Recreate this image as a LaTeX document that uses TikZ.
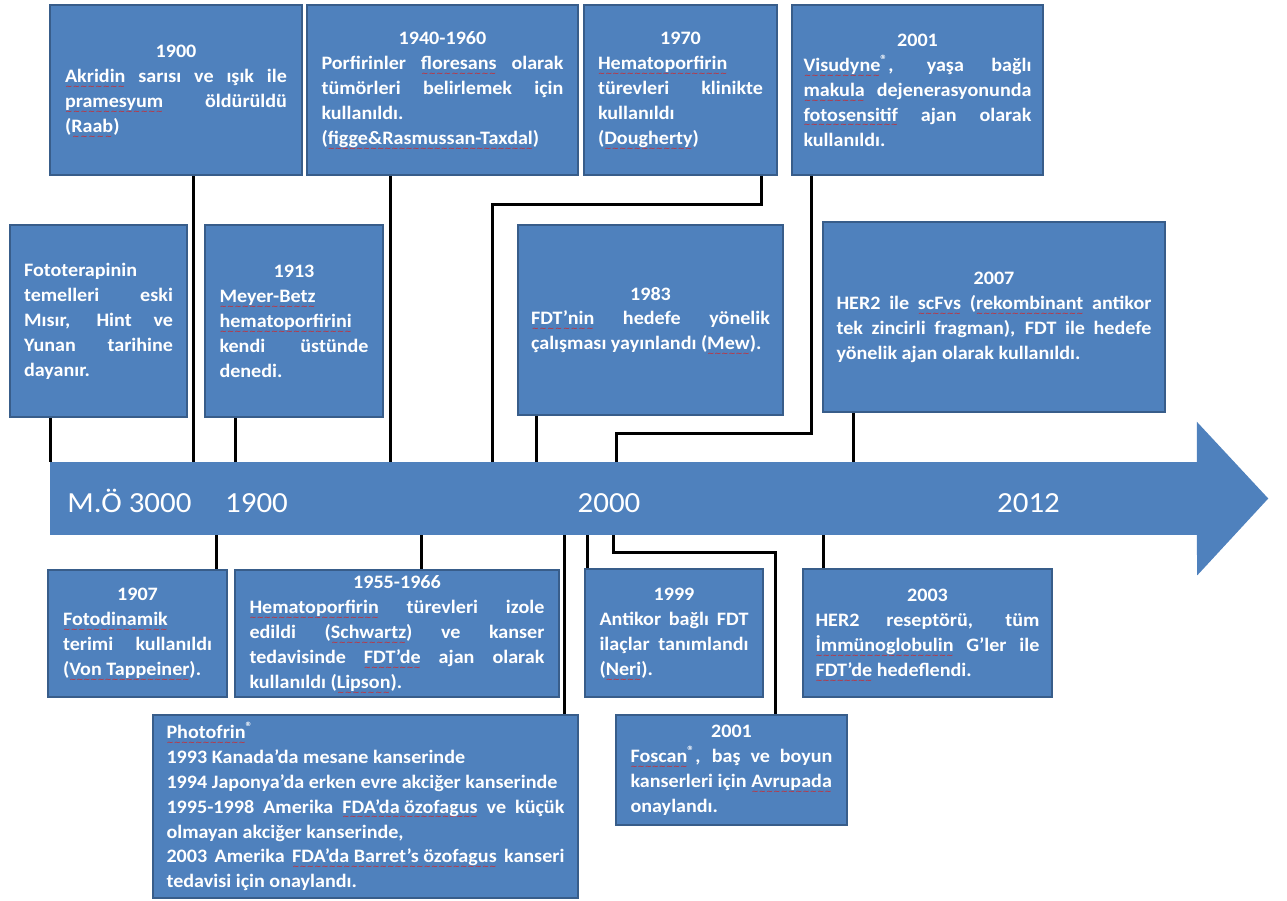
\documentclass[tikz,border=0pt]{standalone}
\usepackage{fontspec}
\setmainfont{Carlito}[FakeStretch=1.06]
\newfontfamily\wavefont{DejaVu Sans}
\usepackage{tikz}
\usetikzlibrary{calc}

\definecolor{evfill}{RGB}{79,129,189}
\definecolor{evline}{RGB}{56,93,138}
\definecolor{spellred}{RGB}{215,35,35}

\setlength{\parindent}{0pt}
\hyphenpenalty=10000
\exhyphenpenalty=10000
\tolerance=10000
\hbadness=10000

% red wavy underline, as in the source
\newsavebox\spkbox
\newcommand\spk[1]{\sbox\spkbox{#1}\leavevmode\rlap{\color{spellred}\raisebox{-3.9pt}[0pt][0pt]{\hbox to \wd\spkbox{\wavefont\fontsize{4.8}{4.8}\selectfont\mdseries\xleaders\hbox{∼}\hfil}}}\usebox\spkbox}
\newcommand\evyear[1]{{\centering #1\par}}

\begin{document}
\begin{tikzpicture}[x=0.02cm, y=-0.02cm,
    event/.style={rectangle, draw=evline, line width=1.4pt, fill=evfill, text=white, align=justify, inner xsep=3pt, inner ysep=2pt, font=\fontsize{10.8}{14.2}\selectfont\bfseries},
    axisbar/.style={rectangle, fill=evfill, inner sep=0pt, minimum width=22.94cm, minimum height=1.46cm},
    era/.style={text=white, anchor=base, font=\fontsize{16.6}{20}\selectfont},
    link/.style={line width=1.8pt, black}
]
\useasboundingbox (0,0) rectangle (1287,900);

% Time axis
\node[axisbar] (axis) at (623.5,498.5) {};
\fill[evfill] ($(axis.north east)+(-0.5,0)$) -- ++(0,-40) -- ($(axis.east)+(71,0)$) -- ($(axis.south east)+(0,40)$) -- ($(axis.south east)+(-0.5,0)$) -- cycle;
\node[era] (e3000) at (129.5,512) {M.Ö 3000};
\node[era] (e1900) at (256.5,512) {1900};
\node[era] (e2000) at (609,512) {2000};
\node[era] (e2012) at (1028.5,512) {2012};

% Top row
\node[event, minimum width=5.04cm, minimum height=3.4cm, text width=4.44cm] (b1900) at (176,90)
  {\evyear{1900}\spk{Akridin} sarısı ve ışık ile\linebreak \spk{pramesyum} öldürüldü\linebreak (\spk{Raab})};
\node[event, minimum width=5.42cm, minimum height=3.4cm, text width=4.84cm] (b1940) at (442.5,90)
  {\evyear{1940-1960}Porfirinler \spk{floresans} olarak\linebreak tümörleri belirlemek için\linebreak kullanıldı.\newline (\spk{figge\&Rasmussan-Taxdal})};
\node[event, minimum width=3.86cm, minimum height=3.4cm, text width=3.3cm] (b1970) at (680.5,90)
  {\evyear{1970}\spk{Hematoporfirin}\newline türevleri klinikte\linebreak kullanıldı\newline (\spk{Dougherty})};
\node[event, minimum width=5.02cm, minimum height=3.4cm, text width=4.56cm] (b2001v) at (917.5,90)
  {\evyear{2001}\spk{Visudyne}\textsuperscript{®}, yaşa bağlı\linebreak \spk{makula} dejenerasyonunda\linebreak \spk{fotosensitif} ajan olarak\linebreak kullanıldı.};

% Middle row
\node[event, minimum width=3.54cm, minimum height=3.84cm, text width=2.98cm] (bfoto) at (98.5,321)
  {Fototerapinin\newline temelleri eski\linebreak Mısır, Hint ve\linebreak Yunan tarihine\linebreak dayanır.};
\node[event, minimum width=3.56cm, minimum height=3.84cm, text width=2.98cm] (b1913) at (294,321)
  {\evyear{1913}\spk{Meyer-Betz}\newline \spk{hematoporfirini}\newline kendi üstünde\linebreak denedi.};
\node[event, minimum width=5.3cm, minimum height=3.8cm, text width=4.78cm] (b1983) at (650.5,320)
  {\evyear{1983}\spk{FDT’nin} hedefe yönelik\linebreak çalışması yayınlandı (\spk{Mew}).};
\node[event, minimum width=6.84cm, minimum height=3.8cm, text width=6.3cm] (b2007) at (994,317)
  {\evyear{2007}HER2 ile \spk{scFvs} (\spk{rekombinant} antikor\linebreak tek zincirli fragman), FDT ile hedefe\linebreak yönelik ajan olarak kullanıldı.};

% Bottom row
\node[event, minimum width=3.58cm, minimum height=2.54cm, text width=2.98cm] (b1907) at (137.5,633.5)
  {\evyear{1907}\spk{Fotodinamik}\newline terimi kullanıldı\linebreak (\spk{Von Tappeiner}).};
\node[event, minimum width=6.48cm, minimum height=2.54cm, text width=5.9cm] (b1955) at (397,633.5)
  {\evyear{1955-1966}\spk{Hematoporfirin} türevleri izole\linebreak edildi (\spk{Schwartz}) ve kanser\linebreak tedavisinde \spk{FDT’de} ajan olarak\linebreak kullanıldı (\spk{Lipson}).};
\node[event, minimum width=3.56cm, minimum height=2.56cm, text width=2.98cm] (b1999) at (674,633)
  {\evyear{1999}Antikor bağlı FDT\linebreak ilaçlar tanımlandı\linebreak (\spk{Neri}).};
\node[event, minimum width=4.98cm, minimum height=2.56cm, text width=4.48cm] (b2003) at (927.5,633)
  {\evyear{2003}HER2 reseptörü, tüm\linebreak \spk{İmmünoglobulin} G’ler ile\linebreak \spk{FDT’de} hedeflendi.};
\node[event, minimum width=8.5cm, minimum height=3.66cm, text width=7.96cm] (bphoto) at (365.5,806.5)
  {\spk{Photofrin}\textsuperscript{®}\newline 1993 Kanada’da mesane kanserinde\newline 1994 Japonya’da erken evre akciğer kanserinde\newline 1995-1998 Amerika \spk{FDA’da özofagus} ve küçük\linebreak olmayan akciğer kanserinde,\newline 2003 Amerika \spk{FDA’da Barret’s özofagus} kanseri\linebreak tedavisi için onaylandı.};
\node[event, minimum width=4.62cm, minimum height=2.2cm, text width=4.04cm] (bfoscan) at (731.5,770)
  {\evyear{2001}\spk{Foscan}\textsuperscript{®}, baş ve boyun\linebreak kanserleri için \spk{Avrupada}\newline onaylandı.};

% Connectors above the axis
\draw[link] ($(bfoto.south west)+(42,0)$) coordinate (c1) -- (c1 |- axis.north);
\draw[link] ($(b1900.south west)+(145,0)$) coordinate (c1) -- (c1 |- axis.north);
\draw[link] ($(b1913.south west)+(32,0)$) coordinate (c1) -- (c1 |- axis.north);
\draw[link] ($(b1940.south west)+(85,0)$) coordinate (c1) -- (c1 |- axis.north);
\draw[link] ($(b1983.south west)+(20,0)$) coordinate (c1) -- (c1 |- axis.north);
\draw[link] ($(b2007.south west)+(32,0)$) coordinate (c1) -- (c1 |- axis.north);
\coordinate (k1970) at ($(axis.north west)+(443,0)$);
\draw[link] ($(b1970.south west)+(179,0)$) -- ++(0,28) -| (k1970);
\coordinate (k2001) at ($(axis.north west)+(567,0)$);
\draw[link] ($(b2001v.south west)+(21,0)$) -- ++(0,257) -| (k2001);

% Connectors below the axis
\draw[link] ($(b1907.north west)+(170,0)$) coordinate (c1) -- (c1 |- axis.south);
\draw[link] ($(b1955.north west)+(188,0)$) coordinate (c1) -- (c1 |- axis.south);
\draw[link] ($(bphoto.north west)+(413,0)$) coordinate (c1) -- (c1 |- axis.south);
\draw[link] ($(b1999.north west)+(4,0)$) coordinate (c1) -- (c1 |- axis.south);
\draw[link] ($(b2003.north west)+(22,0)$) coordinate (c1) -- (c1 |- axis.south);
\coordinate (k2001f) at ($(axis.south west)+(564,0)$);
\draw[link] (k2001f) -- ++(0,17) -| ($(bfoscan.north west)+(161,0)$);
\end{tikzpicture}
\end{document}
